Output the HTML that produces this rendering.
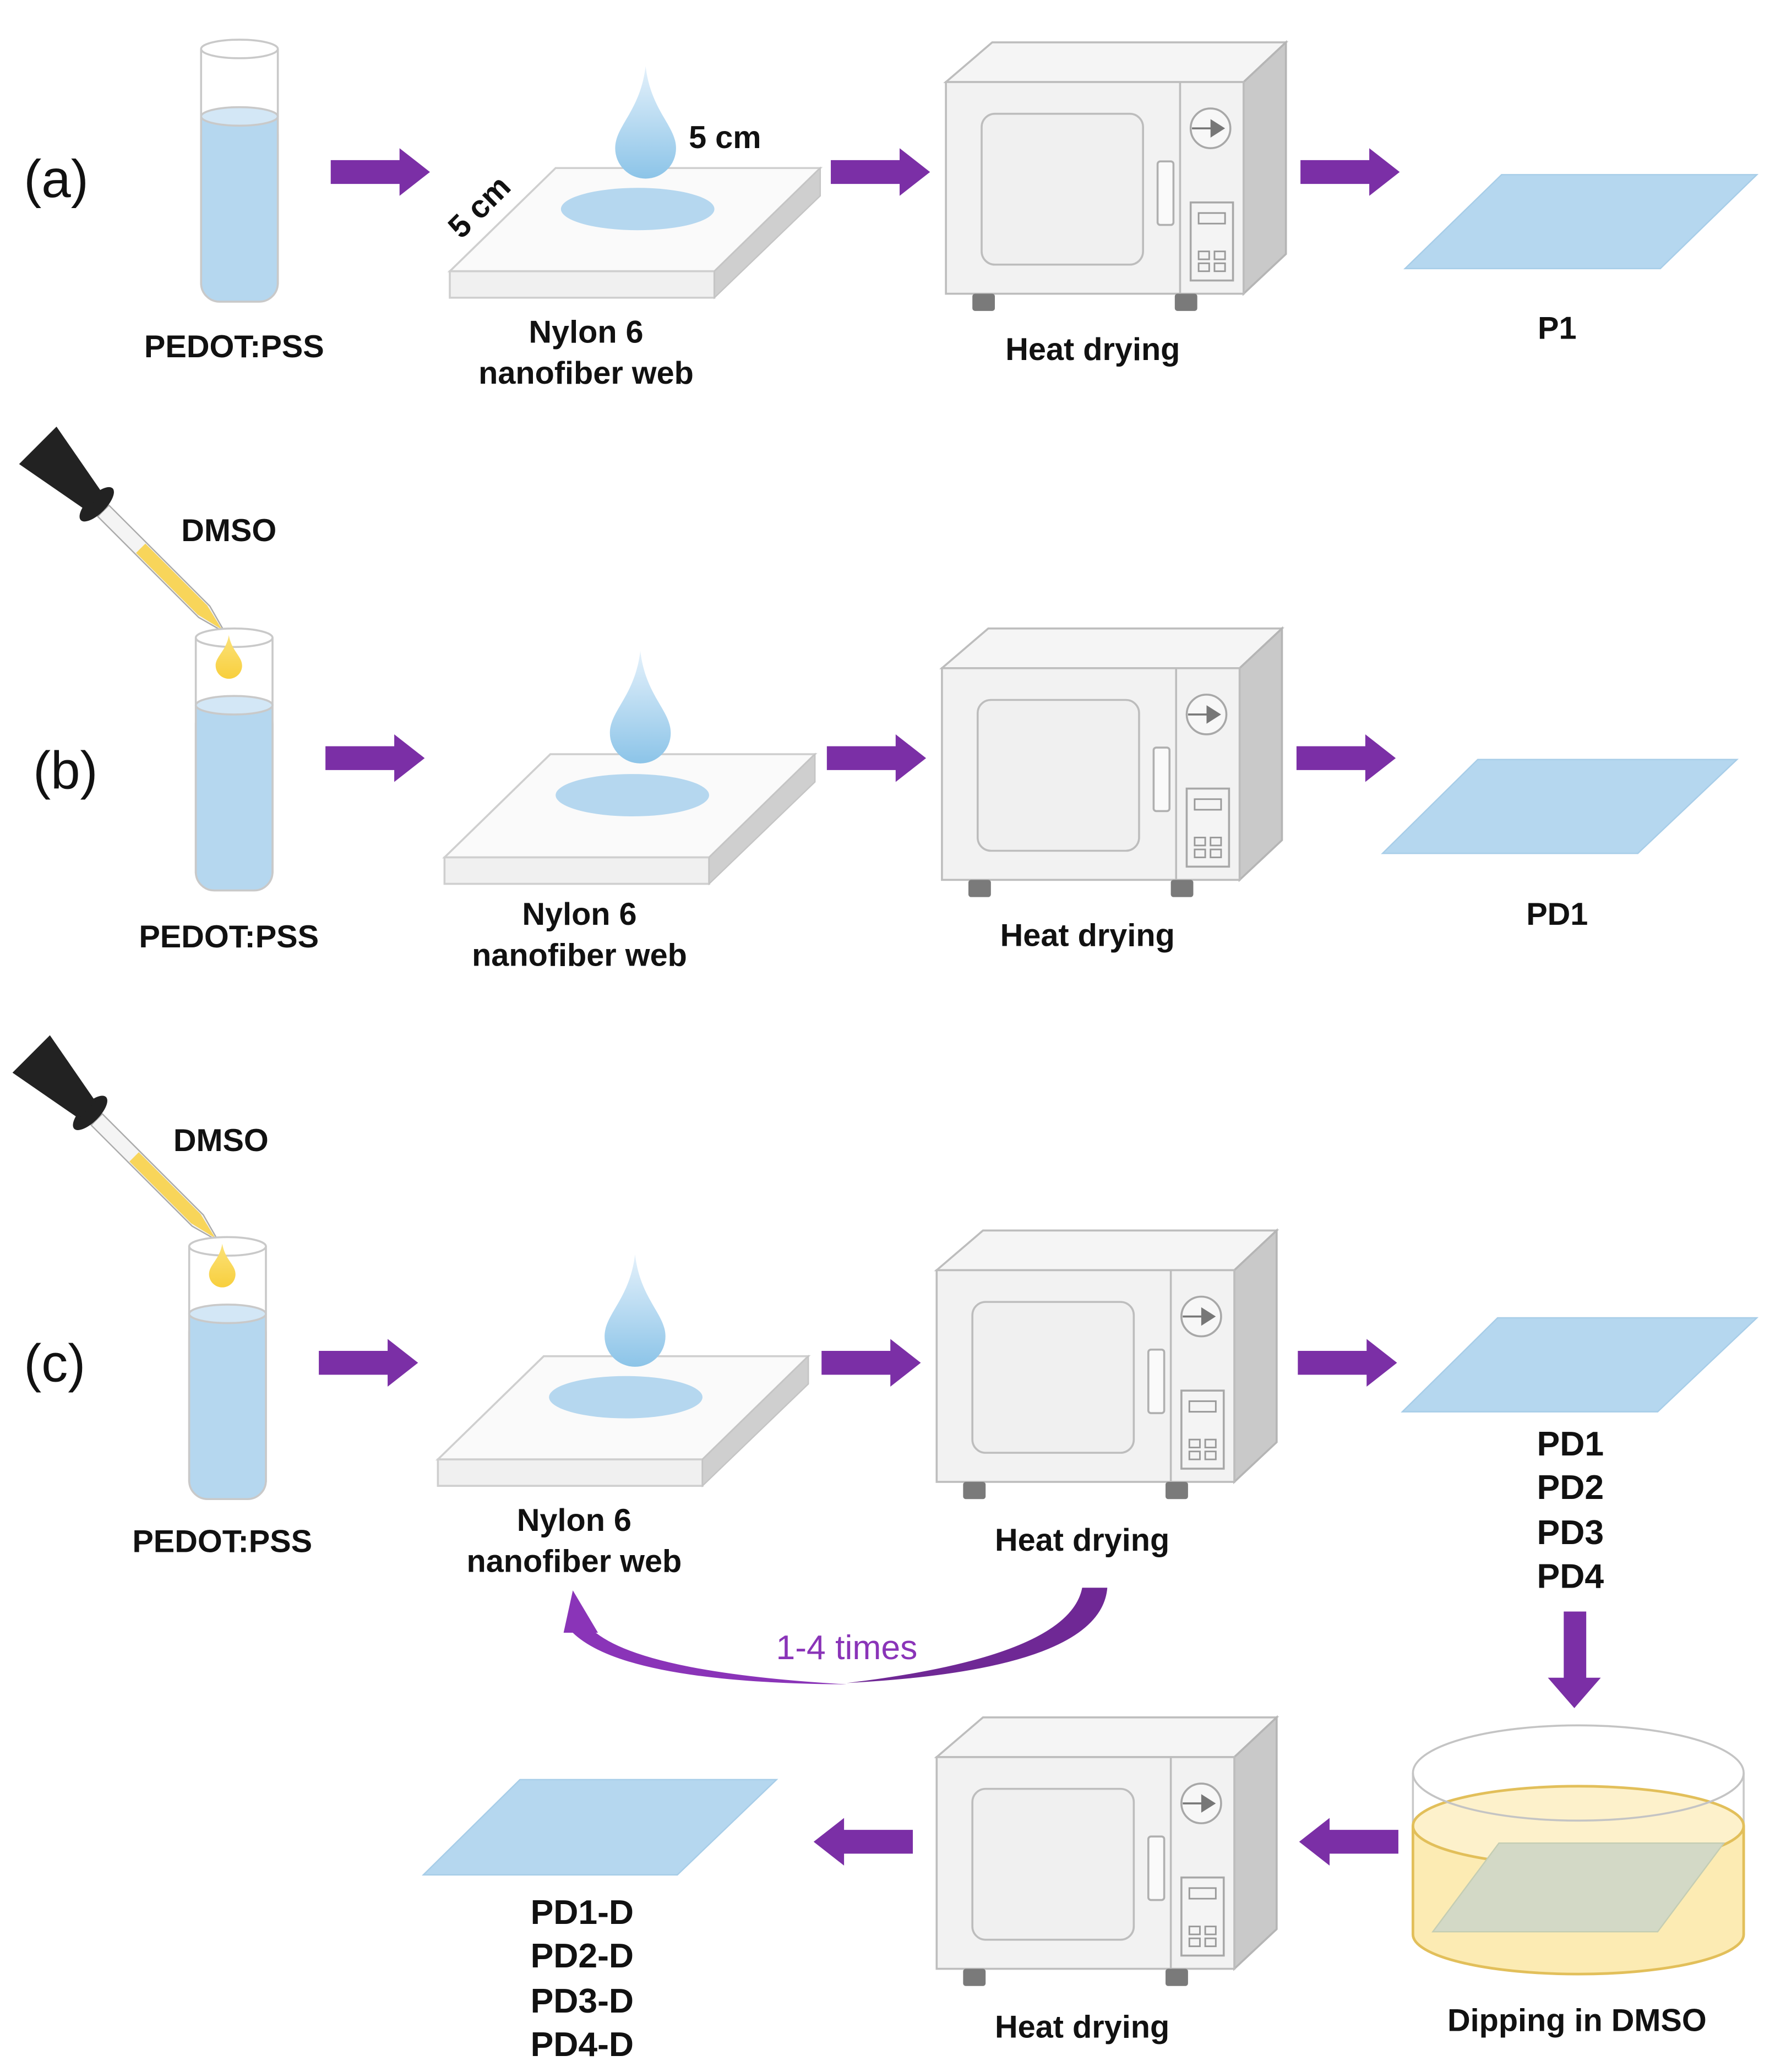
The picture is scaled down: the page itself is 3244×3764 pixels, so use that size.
<!DOCTYPE html>
<html><head><meta charset="utf-8">
<style>
html,body{margin:0;padding:0;background:#fff;}
svg{display:block;}
text{font-family:"Liberation Sans",sans-serif;font-weight:bold;fill:#111;}
</style></head>
<body>
<svg width="3244" height="3764" viewBox="0 0 1350 1566" preserveAspectRatio="none" xmlns="http://www.w3.org/2000/svg">
<defs>
<linearGradient id="dropg" x1="0" y1="0" x2="0" y2="1">
<stop offset="0" stop-color="#e4f1fb"/><stop offset="1" stop-color="#8cc4e8"/>
</linearGradient>
<linearGradient id="ydrop" x1="0" y1="0" x2="0" y2="1">
<stop offset="0" stop-color="#fbe27a"/><stop offset="1" stop-color="#f8cf3d"/>
</linearGradient>
<g id="drop"><path d="M0,0 C4,34 23,45 23,62 A23,23 0 0 1 -23,62 C-23,45 -4,34 0,0Z" fill="url(#dropg)"/></g>
<g id="tube">
<rect x="0" y="58" width="58" height="140" rx="14" fill="#b5d7ef" stroke="#c9c9c9" stroke-width="1.5"/>
<rect x="0" y="58" width="58" height="120" fill="#b5d7ef"/>
<ellipse cx="29" cy="58" rx="29" ry="7" fill="#d3e7f6" stroke="#c9c9c9" stroke-width="1.5"/>
<line x1="0" y1="7" x2="0" y2="185" stroke="#c9c9c9" stroke-width="1.5"/>
<line x1="58" y1="7" x2="58" y2="185" stroke="#c9c9c9" stroke-width="1.5"/>
<ellipse cx="29" cy="7" rx="29" ry="7" fill="#fff" stroke="#c9c9c9" stroke-width="1.5"/>
</g>
<g id="plate">
<polygon points="0,78 80,0 280,0 200,78" fill="#fafafa" stroke="#cfcfcf" stroke-width="1.5"/>
<rect x="0" y="78" width="200" height="20" fill="#f0f0f0" stroke="#cfcfcf" stroke-width="1.5"/>
<polygon points="200,78 280,0 280,21 200,98" fill="#cfcfcf" stroke="#c4c4c4" stroke-width="1"/>
<ellipse cx="142" cy="31" rx="58" ry="16" fill="#b5d7ef"/>
</g>
<g id="oven">
<polygon points="0,30 35,0 257,0 225,30" fill="#f5f5f5" stroke="#bdbdbd" stroke-width="1.5"/>
<polygon points="225,30 257,0 257,160 225,190" fill="#c9c9c9" stroke="#b5b5b5" stroke-width="1.5"/>
<rect x="0" y="30" width="225" height="160" fill="#f2f2f2" stroke="#bdbdbd" stroke-width="1.5"/>
<line x1="177" y1="30" x2="177" y2="190" stroke="#bdbdbd" stroke-width="1.5"/>
<rect x="27" y="54" width="122" height="114" rx="10" fill="#f0f0f0" stroke="#bdbdbd" stroke-width="1.5"/>
<rect x="160" y="90" width="12" height="48" rx="2" fill="#fafafa" stroke="#b0b0b0" stroke-width="1.5"/>
<circle cx="200" cy="65" r="15" fill="#f7f7f7" stroke="#a8a8a8" stroke-width="1.5"/>
<line x1="186" y1="65" x2="203" y2="65" stroke="#777" stroke-width="1.5"/>
<polygon points="200,58 211,65 200,72" fill="#777"/>
<rect x="185" y="121" width="32" height="59" fill="#f4f4f4" stroke="#a8a8a8" stroke-width="1.5"/>
<rect x="191" y="129" width="20" height="8" fill="none" stroke="#999" stroke-width="1.2"/>
<rect x="191" y="158" width="8" height="6" fill="none" stroke="#999" stroke-width="1.2"/>
<rect x="203" y="158" width="8" height="6" fill="none" stroke="#999" stroke-width="1.2"/>
<rect x="191" y="167" width="8" height="6" fill="none" stroke="#999" stroke-width="1.2"/>
<rect x="203" y="167" width="8" height="6" fill="none" stroke="#999" stroke-width="1.2"/>
<rect x="20" y="190" width="17" height="13" rx="2" fill="#7a7a7a"/>
<rect x="173" y="190" width="17" height="13" rx="2" fill="#7a7a7a"/>
</g>
<g id="arrR"><polygon points="0,-9 52,-9 52,-18 75,0 52,18 52,9 0,9" fill="#7b2fa6"/></g>
<g id="pipette">
<polygon points="0,0 22,-6 130,-6 130,6 22,6" fill="#f4f4f4" stroke="#aaa" stroke-width="1"/>
<polygon points="3,0 24,-5 90,-5 90,5 24,5" fill="#f8d55a"/>
<ellipse cx="137" cy="0" rx="7" ry="17" fill="#222"/>
<polygon points="140,-9 200,-20 200,20 140,9" fill="#222"/>
</g>
</defs>

<!-- (a) -->
<text x="18" y="149" font-size="40" style="font-weight:normal">(a)</text>
<use href="#tube" x="152" y="30"/>
<use href="#arrR" x="250" y="130"/>
<use href="#plate" x="340" y="127"/>
<use href="#drop" x="488" y="50"/>
<text x="548" y="112" font-size="24" text-anchor="middle">5 cm</text>
<text x="368" y="162" font-size="24" text-anchor="middle" transform="rotate(-45 368 162)">5 cm</text>
<use href="#arrR" x="628" y="130"/>
<use href="#oven" x="715" y="32"/>
<use href="#arrR" x="983" y="130"/>
<polygon points="1062,203 1135,132 1328,132 1255,203" fill="#b5d7ef" stroke="#a7cde8"/>
<text x="177" y="270" font-size="24" text-anchor="middle">PEDOT:PSS</text>
<text x="443" y="259" font-size="24" text-anchor="middle">Nylon 6</text>
<text x="443" y="290" font-size="24" text-anchor="middle">nanofiber web</text>
<text x="826" y="272" font-size="24" text-anchor="middle">Heat drying</text>
<text x="1177" y="256" font-size="24" text-anchor="middle">P1</text>

<!-- (b) -->
<text x="25" y="596" font-size="40" style="font-weight:normal">(b)</text>
<use href="#pipette" transform="translate(170,478) rotate(225)"/>
<text x="173" y="409" font-size="24" text-anchor="middle">DMSO</text>
<use href="#tube" x="148" y="475"/>
<path d="M173,480 C175,492 183,496 183,503 A10,10 0 0 1 163,503 C163,496 171,492 173,480Z" fill="url(#ydrop)"/>
<use href="#arrR" x="246" y="573"/>
<use href="#plate" x="336" y="570"/>
<use href="#drop" x="484" y="492"/>
<use href="#arrR" x="625" y="573"/>
<use href="#oven" x="712" y="475"/>
<use href="#arrR" x="980" y="573"/>
<polygon points="1045,645 1117,574 1313,574 1238,645" fill="#b5d7ef" stroke="#a7cde8"/>
<text x="173" y="716" font-size="24" text-anchor="middle">PEDOT:PSS</text>
<text x="438" y="699" font-size="24" text-anchor="middle">Nylon 6</text>
<text x="438" y="730" font-size="24" text-anchor="middle">nanofiber web</text>
<text x="822" y="715" font-size="24" text-anchor="middle">Heat drying</text>
<text x="1177" y="699" font-size="24" text-anchor="middle">PD1</text>

<!-- (c) -->
<text x="18" y="1044" font-size="40" style="font-weight:normal">(c)</text>
<use href="#pipette" transform="translate(165,938) rotate(225)"/>
<text x="167" y="870" font-size="24" text-anchor="middle">DMSO</text>
<use href="#tube" x="143" y="935"/>
<path d="M168,940 C170,952 178,956 178,963 A10,10 0 0 1 158,963 C158,956 166,952 168,940Z" fill="url(#ydrop)"/>
<use href="#arrR" x="241" y="1030"/>
<use href="#plate" x="331" y="1025"/>
<use href="#drop" x="480" y="948"/>
<use href="#arrR" x="621" y="1030"/>
<use href="#oven" x="708" y="930"/>
<use href="#arrR" x="981" y="1030"/>
<polygon points="1060,1067 1132,996 1328,996 1253,1067" fill="#b5d7ef" stroke="#a7cde8"/>
<text x="168" y="1173" font-size="24" text-anchor="middle">PEDOT:PSS</text>
<text x="434" y="1157" font-size="24" text-anchor="middle">Nylon 6</text>
<text x="434" y="1188" font-size="24" text-anchor="middle">nanofiber web</text>
<text x="818" y="1172" font-size="24" text-anchor="middle">Heat drying</text>
<text x="1187" y="1100" font-size="26" text-anchor="middle">PD1</text>
<text x="1187" y="1133" font-size="26" text-anchor="middle">PD2</text>
<text x="1187" y="1167" font-size="26" text-anchor="middle">PD3</text>
<text x="1187" y="1200" font-size="26" text-anchor="middle">PD4</text>

<!-- loop arrow -->
<path d="M818,1200 L837,1200 Q832,1262 640,1272 Q808,1252 818,1200 Z" fill="#6f2895"/>
<path d="M431,1232 Q468,1272 640,1273 Q484,1264 448,1232 Z" fill="#8a34b8"/>
<polygon points="433,1202 452,1234 426,1234" fill="#8a34b8"/>
<text x="640" y="1254" font-size="26" text-anchor="middle" style="fill:#8a34b8;font-weight:normal">1-4 times</text>

<!-- down arrow -->
<polygon points="1182,1218 1199,1218 1199,1268 1210,1268 1190,1291 1170,1268 1182,1268" fill="#7b2fa6"/>

<!-- dish -->
<path d="M1068,1340 L1068,1462 A125,30 0 0 0 1318,1462 L1318,1340" fill="#fff" stroke="#c9c9c9" stroke-width="1.5"/>
<path d="M1068,1380 L1068,1462 A125,30 0 0 0 1318,1462 L1318,1380 Z" fill="#fcebb3"/>
<ellipse cx="1193" cy="1380" rx="125" ry="30" fill="#fdf1cb" stroke="#e2bf5a" stroke-width="2"/>
<polygon points="1083,1460 1133,1393 1303,1393 1253,1460" fill="#d3d9c6" stroke="#c4cdb3"/>
<path d="M1068,1380 L1068,1462 A125,30 0 0 0 1318,1462 L1318,1380" fill="none" stroke="#e2bf5a" stroke-width="2"/>
<ellipse cx="1193" cy="1340" rx="125" ry="36" fill="none" stroke="#c4c4c4" stroke-width="1.5"/>
<text x="1192" y="1535" font-size="24" text-anchor="middle">Dipping in DMSO</text>

<!-- bottom row -->
<use href="#arrR" transform="translate(1057,1392) scale(-1,1)"/>
<use href="#oven" x="708" y="1298"/>
<text x="818" y="1540" font-size="24" text-anchor="middle">Heat drying</text>
<use href="#arrR" transform="translate(690,1392) scale(-1,1)"/>
<polygon points="320,1417 393,1345 587,1345 512,1417" fill="#b5d7ef" stroke="#a7cde8"/>
<text x="440" y="1454" font-size="26" text-anchor="middle">PD1-D</text>
<text x="440" y="1487" font-size="26" text-anchor="middle">PD2-D</text>
<text x="440" y="1521" font-size="26" text-anchor="middle">PD3-D</text>
<text x="440" y="1554" font-size="26" text-anchor="middle">PD4-D</text>
</svg>
</body></html>
